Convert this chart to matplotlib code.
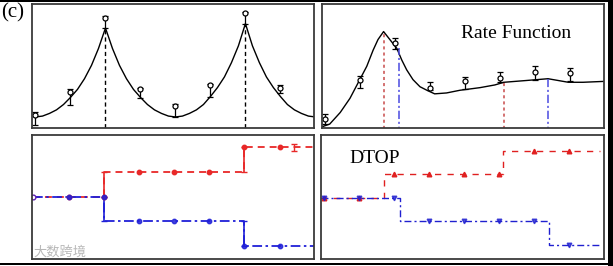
import matplotlib
matplotlib.use("Agg")
from matplotlib import pyplot as plt
from matplotlib.patches import Rectangle

plt.rcParams['lines.scale_dashes'] = False

# ---- top left: periodic curve with sampled points ----
tl_curve_x = [i / 10 for i in range(41)]
tl_curve_y = [0, .01, .04, .08, .14, .22, .31, .43, .58, .77, 1.0,
              .77, .58, .43, .31, .22, .14, .08, .04, .01, 0,
              .01, .04, .08, .14, .23, .33, .45, .61, .80, 1.05,
              .80, .61, .45, .33, .23, .14, .08, .04, .01, 0]
tl_x = [0, 0.5, 1, 1.5, 2, 2.5, 3, 3.5]
tl_pt = [0.02, 0.28, 1.11, 0.32, 0.12, 0.36, 1.17, 0.33]
tl_hi = [0.06, 0.31, 1.14, 0.33, 0.15, 0.37, 1.18, 0.36]
tl_lo = [-0.09, 0.13, 1.00, 0.21, 0.00, 0.22, 1.04, 0.27]
tl_vx = [1, 3]
tl_vtop = [1.0, 1.05]

# ---- top right: rate function ----
tr_curve_x = [-0.05, 0.06, 0.21, 0.35, 0.49, 0.59, 0.68, 0.75, 0.83, 0.92, 1.02,
              1.09, 1.16, 1.25, 1.35, 1.45, 1.56, 1.73, 1.92, 2.21, 2.42, 2.55,
              2.87, 3.18, 3.47, 3.68, 3.98]
tr_curve_y = [-0.11, -0.08, 0.05, 0.21, 0.42, 0.57, 0.75, 0.87, 0.96, 0.87, 0.77,
              0.64, 0.53, 0.42, 0.34, 0.30, 0.26, 0.27, 0.30, 0.33, 0.36, 0.39,
              0.41, 0.43, 0.39, 0.39, 0.40]
tr_x = [0, 0.5, 1, 1.5, 2, 2.5, 3, 3.5]
tr_pt = [-0.02, 0.42, 0.83, 0.33, 0.40, 0.44, 0.50, 0.49]
tr_hi = [0.03, 0.46, 0.89, 0.39, 0.45, 0.50, 0.57, 0.55]
tr_lo = [-0.08, 0.33, 0.76, 0.30, 0.31, 0.39, 0.42, 0.40]
tr_red_x = [0.83, 2.55]
tr_red_top = [0.96, 0.39]
tr_blue_x = [1.05, 3.18]
tr_blue_top = [0.78, 0.43]

# ---- bottom left: steps ----
bl_step_x = [0, 1.0, 3.0, 4.0]
bl_red_lvl = [0, 1, 2, 2]
bl_blue_lvl = [0, -1, -2, -2]
bl_mark_x = [0, 0.5, 1.0, 1.5, 2.0, 2.5, 3.0, 3.5]
bl_red_mark = [0, 0, 0, 1, 1, 1, 2, 2]
bl_blue_mark = [0, 0, 0, -1, -1, -1, -2, -2]
bl_extra = (3.7, 2.0, 0.15)

# ---- bottom right: DTOP ----
br_red_x = [-0.05, 0.85, 2.56, 3.94]
br_red_lvl = [0, 1, 2, 2]
br_blue_x = [-0.05, 1.08, 3.21, 3.94]
br_blue_lvl = [0, -1, -2, -2]
br_mark_x = [0, 0.5, 1.0, 1.5, 2.0, 2.5, 3.0, 3.5]
br_red_mark = [0, 0, 1, 1, 1, 1, 2, 2]
br_blue_mark = [0, 0, 0, -1, -1, -1, -1, -2]

W, H = 613, 266
fig = plt.figure(figsize=(W / 100, H / 100), dpi=100)

def box(x0, y0, x1, y1):
    return fig.add_axes([x0 / W, 1 - y1 / H, (x1 - x0) / W, (y1 - y0) / H])

ax1 = box(32, 4, 314, 128)
ax2 = box(322, 4, 604, 128)
ax3 = box(32, 135, 314, 259)
ax4 = box(321, 135, 604, 259)

for ax in (ax1, ax2, ax3, ax4):
    ax.set_xticks([])
    ax.set_yticks([])
    for s in ax.spines.values():
        s.set_linewidth(1.3)
        s.set_color("#3a3a3a")

serif = ["Liberation Serif", "DejaVu Serif"]

#-----------
ax1.plot(tl_curve_x, tl_curve_y, color="black", lw=1.0)
ax1.vlines(tl_vx, -0.2, tl_vtop, color="black", lw=1.0, linestyles=(0, (3, 2.2)))
err = [[p - l for p, l in zip(tl_pt, tl_lo)], [h - p for p, h in zip(tl_pt, tl_hi)]]
ax1.errorbar(tl_x, tl_pt, yerr=err, fmt="o", ms=3.6, mfc="white", mec="black",
             mew=0.9, ecolor="black", elinewidth=0.9, capsize=2.5, capthick=0.9)
ax1.set_xlim(-0.05, 3.98)
ax1.set_ylim(-0.124, 1.27)

#-----------
ax2.plot(tr_curve_x, tr_curve_y, color="black", lw=1.0)
ax2.vlines(tr_red_x, -0.2, tr_red_top, color="#c84a4a", lw=1.1, linestyles=(0, (2.2, 2.2)))
ax2.vlines(tr_blue_x, -0.2, tr_blue_top, color="#4a4ae0", lw=1.1,
           linestyles=(0, (6, 2, 1.5, 2)))
err = [[p - l for p, l in zip(tr_pt, tr_lo)], [h - p for p, h in zip(tr_pt, tr_hi)]]
ax2.errorbar(tr_x, tr_pt, yerr=err, fmt="o", ms=3.6, mfc="white", mec="black",
             mew=0.9, ecolor="black", elinewidth=0.9, capsize=2.5, capthick=0.9)
ax2.text(0.688, 0.766, "Rate Function", transform=ax2.transAxes, ha="center",
         va="center", fontsize=14, family=serif)
ax2.set_xlim(-0.05, 3.98)
ax2.set_ylim(-0.124, 1.27)

#-----------
red = "#e82828"
blue = "#2020d8"
ax3.plot(bl_step_x, bl_red_lvl, drawstyle="steps-post", color=red, lw=1.3,
         linestyle=(0, (5, 3.6)))
ax3.plot(bl_step_x, bl_blue_lvl, drawstyle="steps-post", color=blue, lw=1.3,
         linestyle=(0, (7, 2.5, 1.8, 2.5)))
for lvl, c in ((bl_red_lvl, red), (bl_blue_lvl, blue)):
    for i in (1, 2):
        mid = (lvl[i - 1] + lvl[i]) / 2
        ax3.errorbar(bl_step_x[i], mid, yerr=abs(lvl[i] - lvl[i - 1]) / 2, fmt="none",
                     ecolor=c, elinewidth=1.2, capsize=2.5, capthick=1.0)
ax3.plot(bl_mark_x[1:], bl_red_mark[1:], "o", color=red, ms=3.2, ls="none")
ax3.plot(bl_mark_x[1:], bl_blue_mark[1:], "o", color=blue, ms=3.2, ls="none", alpha=0.85)
ax3.plot(bl_mark_x[:1], bl_blue_mark[:1], "o", mfc="white", mec="#6020b0", ms=3.4, mew=1.0)
ax3.errorbar(bl_extra[0], bl_extra[1], yerr=bl_extra[2], fmt="none", ecolor=red,
             elinewidth=1.0, capsize=2.5)
ax3.set_xlim(-0.02, 3.99)
ax3.set_ylim(-2.52, 2.5)

#-----------
ax4.plot(br_red_x, br_red_lvl, drawstyle="steps-post", color="#e02020", lw=1.0,
         linestyle=(0, (4.5, 4.5)))
ax4.plot(br_blue_x, br_blue_lvl, drawstyle="steps-post", color="#2020d0", lw=1.0,
         linestyle=(0, (5, 2.2, 1.5, 2.2)))
ax4.plot(br_mark_x, br_red_mark, "^", color="#e02020", ms=3.3, ls="none")
ax4.plot(br_mark_x, br_blue_mark, "v", color="#2020d0", ms=3.3, ls="none", alpha=0.8)
ax4.text(0.188, 0.812, "DTOP", transform=ax4.transAxes, ha="center", va="center",
         fontsize=14, family=serif)
ax4.set_xlim(-0.047, 4.0)
ax4.set_ylim(-2.61, 2.67)

fig.text(13 / W, 1 - 13 / H, "(c)", ha="center", va="center", fontsize=15, family=serif)
fig.text(33 / W, 1 - 252 / H, "大数跨境", ha="left", va="center", fontsize=9.5,
         color="#b8b8b8", family=["Noto Sans CJK SC", "DejaVu Sans"])

# black borders of the scanned figure
fig.add_artist(Rectangle((0, 1 - 1.5 / H), 1, 1.5 / H, transform=fig.transFigure,
                         color="black", lw=0))
fig.add_artist(Rectangle((608 / W, 0), 5 / W, 1, transform=fig.transFigure,
                         color="black", lw=0))
fig.add_artist(Rectangle((0, 1 - 265 / H), 1, 2.5 / H, transform=fig.transFigure,
                         color="black", lw=0))

fig.savefig("out.png", dpi=100)
